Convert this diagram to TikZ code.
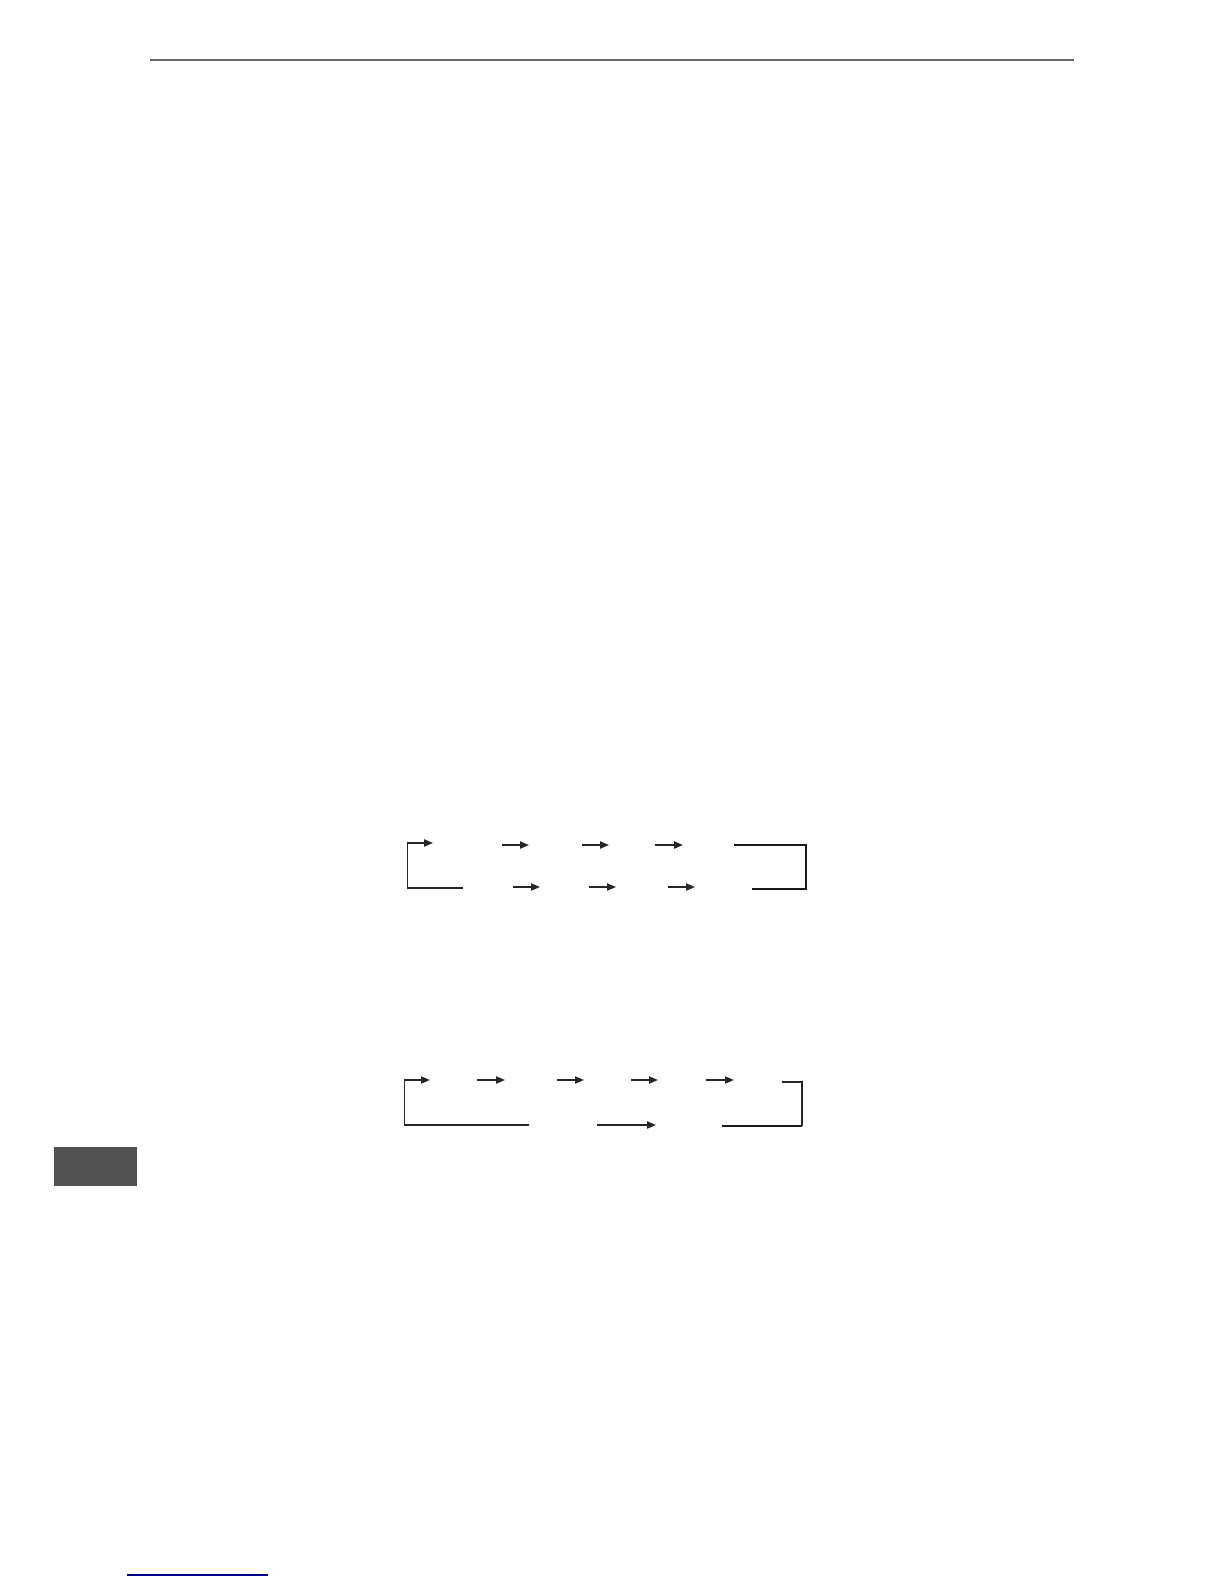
\documentclass[tikz,border=0pt]{standalone}
\usetikzlibrary{arrows.meta}

\tikzset{
  flow/.style={line width=.8pt,black!85,-{Triangle[length=4.5pt,width=3.6pt]}},
  loopline/.style={line width=.8pt,black!85},
  heavyline/.style={line width=1.1pt,black!90}
}

\begin{document}
\begin{tikzpicture}[x=.5pt,y=-.5pt]
\useasboundingbox (0,0) rectangle (1224,1584);
% page furniture
\draw[line width=1pt,black!60] (150,60)--(1074,60);
\fill[black!68] (54,1147) rectangle (137,1186);
\draw[line width=.8pt,blue!55!black] (127,1575)--(268,1575);

% first cycle
\coordinate (a0) at (407.5,888);
\coordinate (a1) at (407.5,843);
\draw[loopline,-{Triangle[length=4.5pt,width=3.6pt]}] (463,888)--(a0)--(a1)--(433,843);
\foreach \s/\e in {502/529,582/609,655/683}
\draw[flow] (\s,845)--(\e,845);
\foreach \s/\e in {513/540,589/616,668/695}
\draw[flow] (\s,887)--(\e,887);
\draw[heavyline] (734,845)--(806,845)--(806,889)--(752,889);

% second cycle
\coordinate (b0) at (404.5,1125);
\coordinate (b1) at (404.5,1080);
\draw[loopline,-{Triangle[length=4.5pt,width=3.6pt]}] (529,1125)--(b0)--(b1)--(430,1080);
\foreach \s/\e in {477/505,557/584,631/658,706/734}
\draw[flow] (\s,1080)--(\e,1080);
\draw[flow] (597,1125)--(656,1125);
\draw[loopline] (782,1082)--(802,1082)--(802,1126);
\draw[heavyline] (802,1126)--(722,1126);
\end{tikzpicture}
\end{document}
